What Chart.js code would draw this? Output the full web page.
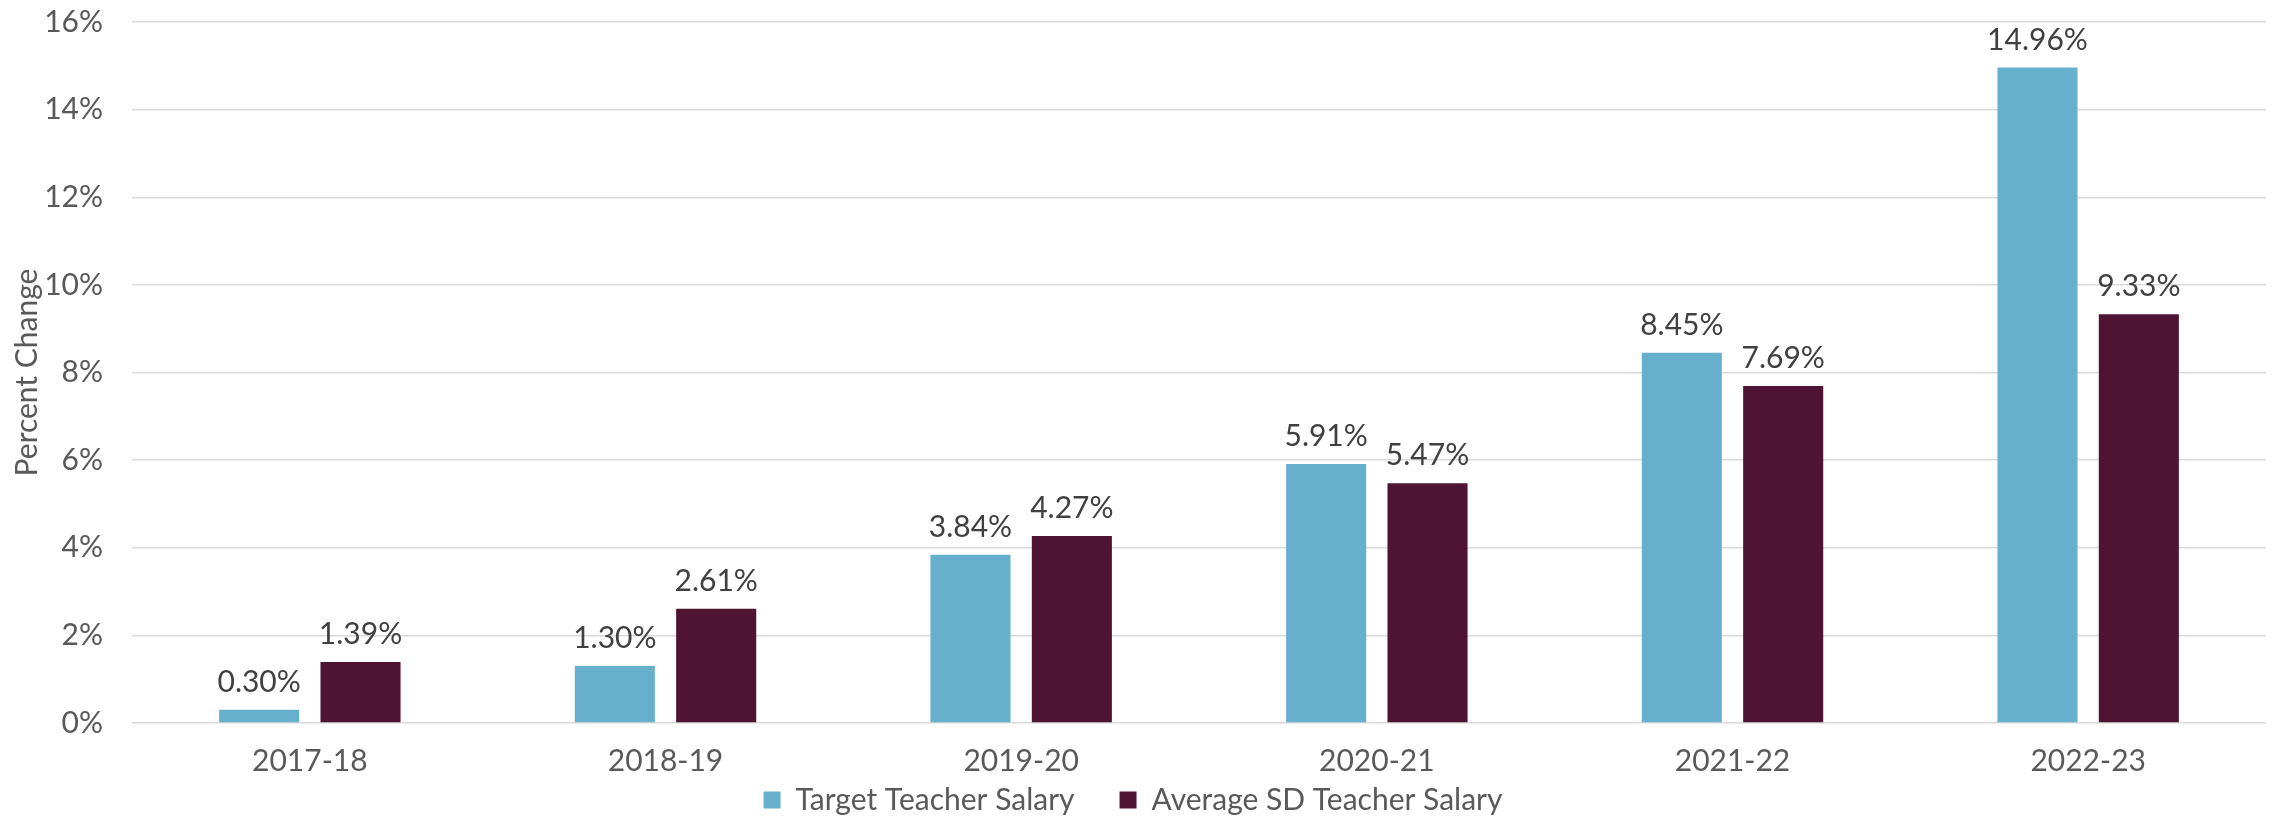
<!DOCTYPE html>
<html>
<head>
<meta charset="utf-8">
<script src="https://cdn.jsdelivr.net/npm/chart.js@4/dist/chart.umd.min.js"></script>
<style>
  html, body { margin: 0; padding: 0; background: #fff; }
  #wrap { position: relative; width: 2280px; height: 818px; }
</style>
</head>
<body>
<div id="wrap"><canvas id="salary-chart"></canvas></div>
<script>
// values
const years = ["2017-18", "2018-19", "2019-20", "2020-21", "2021-22", "2022-23"];
const targetSalary = [0.30, 1.30, 3.84, 5.91, 8.45, 14.96];
const averageSdSalary = [1.39, 2.61, 4.27, 5.47, 7.69, 9.33];
const yTicks = [0, 2, 4, 6, 8, 10, 12, 14, 16];

const FONT = "Lato, 'Open Sans', sans-serif";

// draws the value above each bar, like the data labels in the original
const barValueLabels = {
  id: "barValueLabels",
  afterDatasetsDraw(chart) {
    const ctx = chart.ctx;
    ctx.save();
    ctx.font = `30px ${FONT}`;
    ctx.fillStyle = "#404040";
    ctx.textAlign = "center";
    ctx.textBaseline = "alphabetic";
    chart.data.datasets.forEach((ds, i) => {
      chart.getDatasetMeta(i).data.forEach((bar, j) => {
        ctx.fillText(ds.data[j].toFixed(2) + "%", bar.x, bar.y - 18);
      });
    });
    ctx.restore();
  },
};

// legend padding also sets the gap between items, so stretch the legend box
// upward (it clips to its own box) to keep the row tight under the category labels
const legendNudge = {
  id: "legendNudge",
  afterLayout(chart) {
    const lg = chart.legend;
    if (!lg) return;
    lg.top -= 41;
  },
};

new Chart(document.getElementById("salary-chart"), {
  type: "bar",
  data: {
    labels: years,
    datasets: [
      {
        label: "Target Teacher Salary",
        data: targetSalary,
        backgroundColor: "#67B0CD",
        barPercentage: 0.79,
        categoryPercentage: 0.57,
      },
      {
        label: "Average SD Teacher Salary",
        data: averageSdSalary,
        backgroundColor: "#4E1432",
        barPercentage: 0.79,
        categoryPercentage: 0.57,
      },
    ],
  },
  options: {
    responsive: true,
    maintainAspectRatio: false,
    animation: false,
    layout: { padding: { top: 22, right: 14, left: 0, bottom: 0 } },
    plugins: {
      tooltip: { enabled: false },
      legend: {
        position: "bottom",
        maxHeight: 37,
        labels: {
          color: "#595959",
          font: { family: FONT, size: 30 },
          boxWidth: 17,
          boxHeight: 17,
          padding: 45,
        },
      },
    },
    scales: {
      x: {
        grid: { display: false },
        border: { display: false },
        afterFit(scale) {
          scale.height = 58;
        },
        ticks: {
          color: "#595959",
          font: { family: FONT, size: 30 },
          padding: 12,
        },
      },
      y: {
        min: 0,
        max: 16,
        afterBuildTicks(scale) {
          scale.ticks = yTicks.map((v) => ({ value: v }));
        },
        afterFit(scale) {
          scale.width = 132;
        },
        grid: {
          color: "#D9D9D9",
          lineWidth: 1.5,
          drawTicks: true,
          tickLength: 29,
          tickColor: "rgba(0,0,0,0)",
        },
        border: { display: false },
        ticks: {
          color: "#595959",
          font: { family: FONT, size: 30 },
          padding: 0,
          callback: (v) => v + "%",
        },
        title: {
          display: true,
          text: "Percent Change",
          color: "#595959",
          font: { family: FONT, size: 30 },
          padding: { top: 9, bottom: 0 },
        },
      },
    },
  },
  plugins: [barValueLabels, legendNudge],
});
</script>
</body>
</html>
